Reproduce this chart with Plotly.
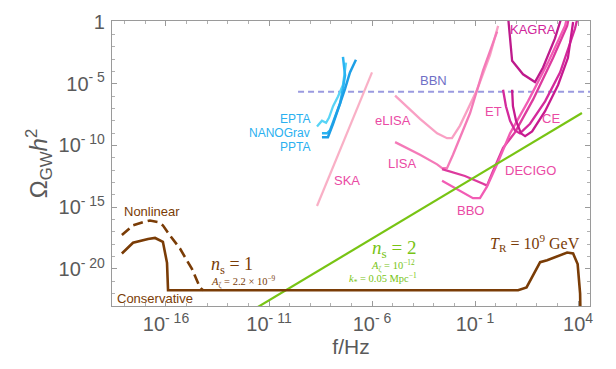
import numpy as np
import plotly.graph_objects as go

# ---- data (log10 f [Hz], log10 Omega_GW h^2) ----
cons_lf = [-18.14, -17.6, -16.87, -16.53, -16.15, -15.95, -15.9, 1.09, 1.5, 2.16, 2.5, 3.0, 3.47, 3.76, 3.98, 4.1, 4.12]
cons_lO = [-18.75, -17.88, -17.57, -17.49, -17.8, -19.5, -21.73, -21.73, -21.5, -19.45, -19.3, -19.0, -18.67, -18.75, -19.6, -22.0, -24.0]

nonlin_lf = [-18.14, -17.6, -17.1, -16.78, -16.4, -16.15, -15.8, -15.32, -14.74, -14.35, -14.2]
nonlin_lO = [-17.25, -16.47, -16.2, -16.08, -16.2, -16.47, -17.3, -18.35, -20.0, -21.5, -21.73]

green_lf = [-11.6, 4.19]
green_lO = [-23.14, -7.37]

bbn_lf = [-9.59, 4.58]
bbn_lO = [-5.65, -5.65]

ska_lf = [-8.67, -6.0]
ska_lO = [-14.9, -4.08]

epta_lf = [-8.67, -8.43, -8.23, -8.09, -7.89, -7.65, -7.41, -7.26]
epta_lO = [-8.47, -8.0, -8.16, -7.76, -6.82, -6.04, -5.10, -3.29]

nano_lf = [-8.43, -8.18, -8.04, -7.80, -7.55, -7.41, -7.31, -7.41]
nano_lO = [-9.02, -9.02, -8.78, -7.76, -6.59, -5.41, -4.31, -2.82]

ppta_lf = [-8.43, -8.14, -7.89, -7.55, -7.31, -7.07, -6.78]
ppta_lO = [-9.33, -9.33, -8.24, -6.67, -5.41, -4.08, -3.06]

elisa_lf = [-4.88, -3.67, -2.84, -2.36, -2.12, -1.73, -0.90, -0.27, 0.12]
elisa_lO = [-5.96, -7.84, -9.02, -9.41, -9.41, -8.39, -5.49, -2.67, -0.31]

lisa_lf = [-4.88, -3.67, -2.84, -2.60, -2.36, -2.07, -1.24, -0.61, 0.07]
lisa_lO = [-9.73, -10.75, -11.53, -11.84, -11.84, -10.75, -7.37, -3.92, -0.78]

decigo_lf = [-2.60, -1.49, -0.61, -0.42, -0.13, 0.36, 0.94, 1.82, 2.79, 3.47, 3.56]
decigo_lO = [-11.92, -12.47, -13.10, -13.25, -12.08, -10.20, -8.94, -6.27, -2.90, -0.31, 0.4]

bbo_lf = [-2.60, -1.10, -0.76, -0.42, 0.07, 0.70, 1.57, 2.54, 3.37, 3.47]
bbo_lO = [-12.86, -14.27, -14.27, -13.33, -11.53, -9.02, -6.43, -3.29, -0.31, 0.4]

kagra_lf = [0.60, 0.80, 1.33, 1.91, 2.30, 2.88, 3.22]
kagra_lO = [0.5, -3.14, -4.24, -4.86, -3.69, -1.33, 0.5]

et_lf = [0.36, 0.50, 0.70, 0.94, 1.18, 1.67, 2.40, 3.13, 3.85, 4.0]
et_lO = [-5.49, -6.82, -8.0, -8.78, -9.02, -8.24, -6.43, -4.08, -0.55, 0.5]

ce_lf = [0.80, 0.84, 0.99, 1.23, 1.43, 1.77, 2.40, 3.03, 3.51, 3.76]
ce_lO = [-5.49, -6.82, -8.0, -9.02, -9.25, -8.86, -7.22, -5.10, -2.90, 0.0]

x_tick_exp = [-16, -11, -6, -1, 4]
y_tick_exp = [-20, -15, -10, -5, 0]
x_ticktext = ["10<sup>- 16</sup>", "10<sup>- 11</sup>", "10<sup>- 6</sup>", "10<sup>- 1</sup>", "10<sup>4</sup>"]
y_ticktext = ["10<sup>- 20</sup>", "10<sup>- 15</sup>", "10<sup>- 10</sup>", "10<sup>- 5</sup>", "1"]

BROWN = "#7a3c06"
GREEN = "#78c414"

def p(v):
    return [10.0 ** a for a in v]

fig = go.Figure()

def line(lf, lO, color, width=2.2, dash=None):
    fig.add_trace(go.Scatter(x=p(lf), y=p(lO), mode="lines",
                             line=dict(color=color, width=width, dash=dash),
                             hoverinfo="skip", showlegend=False))

line(bbn_lf, bbn_lO, "#9a9ae0", 2.2, "6px,4px")
line(ska_lf, ska_lO, "#f9b0c6", 2.2)
line(epta_lf, epta_lO, "#58d4f6", 2.3)
line(nano_lf, nano_lO, "#2ab4f2", 2.5)
line(ppta_lf, ppta_lO, "#1d9fe6", 2.5)
line(elisa_lf, elisa_lO, "#f9a0c4", 2.3)
line(lisa_lf, lisa_lO, "#f47ab8", 2.3)
line(decigo_lf, decigo_lO, "#dd3a9e", 2.3)
line(bbo_lf, bbo_lO, "#f25cb4", 2.3)
line(kagra_lf, kagra_lO, "#be1a8c", 2.3)
line(et_lf, et_lO, "#d42a9c", 2.3)
line(ce_lf, ce_lO, "#c71a90", 2.3)
line(green_lf, green_lO, GREEN, 2.2)
line(nonlin_lf, nonlin_lO, BROWN, 2.6, "10px,5px")
line(cons_lf, cons_lO, BROWN, 2.6)

def label(x, y, text, color, size=13, xanchor="center", family="Liberation Sans"):
    fig.add_annotation(x=x, y=y, text=text, showarrow=False, xanchor=xanchor,
                       yanchor="middle", font=dict(color=color, size=size, family=family))

label(1.82, -0.63, "KAGRA", "#d0249a")
label(-3.04, -4.71, "BBN", "#6f6fc6")
label(-8.91, -7.88, "EPTA", "#2ab0f0", 12, xanchor="right")
label(-8.91, -8.95, "NANOGrav", "#2ab0f0", 12, xanchor="right")
label(-8.91, -10.15, "PPTA", "#2ab0f0", 12, xanchor="right")
label(-7.21, -12.86, "SKA", "#ea4aa4")
label(-4.98, -8.0, "eLISA", "#ea4aa4")
label(-4.54, -11.45, "LISA", "#ea4aa4")
label(-0.08, -7.22, "ET", "#ea4aa4")
label(2.69, -7.84, "CE", "#ea4aa4")
label(1.67, -12.0, "DECIGO", "#ea4aa4")
label(-1.24, -15.29, "BBO", "#ea4aa4")
label(-16.68, -15.37, "Nonlinear", BROWN)
label(-16.53, -22.43, "Conservative", BROWN)

SERIF = "Liberation Serif"
label(-13.9, -19.7, "<i>n</i><sub>s</sub> = 1", BROWN, 18, "left", SERIF)
label(-13.9, -21.05, "<i>A</i><sub>ζ</sub> = 2.2 × 10<sup>−9</sup>", BROWN, 10.5, "left", SERIF)
label(-3.75, -18.4, "<i>n</i><sub>s</sub> = 2", GREEN, 19, "right", SERIF)
label(-3.8, -19.72, "<i>A</i><sub>ζ</sub> = 10<sup>−12</sup>", GREEN, 10.5, "right", SERIF)
label(-3.7, -20.78, "<i>k</i><sub>*</sub> = 0.05 Mpc<sup>−1</sup>", GREEN, 10.5, "right", SERIF)
label(4.2, -17.88, "<i>T</i><sub>R</sub> = 10<sup>9</sup> GeV", BROWN, 16, "right", SERIF)

axis_common = dict(showline=True, linecolor="#9a9a9a", linewidth=1.2, mirror="ticks",
                   ticks="inside", ticklen=5, tickcolor="#9a9a9a", showgrid=False,
                   zeroline=False, tickfont=dict(family="Liberation Sans", size=20, color="#5a5a5a"))

minor_x = [10.0 ** e for e in range(-18, 5) if e not in x_tick_exp]
minor_y = [10.0 ** e for e in range(-22, 1) if e not in y_tick_exp]

fig.update_xaxes(type="log", range=[-18.62, 4.58],
                 tickvals=[10.0 ** e for e in x_tick_exp], ticktext=x_ticktext,
                 minor=dict(tickvals=minor_x, ticks="inside", ticklen=3, tickcolor="#b0b0b0"),
                 title=dict(text="f/Hz", font=dict(family="Liberation Sans", size=21, color="#5a5a5a"), standoff=4),
                 **axis_common)
fig.update_yaxes(type="log", range=[-23.0, 0.08],
                 tickvals=[10.0 ** e for e in y_tick_exp], ticktext=y_ticktext,
                 minor=dict(tickvals=minor_y, ticks="inside", ticklen=3, tickcolor="#b0b0b0"),
                 title=dict(text="Ω<sub>GW</sub><i>h</i><sup>2</sup>", font=dict(family="Liberation Sans", size=24, color="#5a5a5a"), standoff=4),
                 ticklabelstandoff=2,
                 **axis_common)

fig.update_layout(width=616, height=369, margin=dict(l=112, r=26, t=11, b=63),
                  paper_bgcolor="white", plot_bgcolor="white", showlegend=False)

fig.write_html("out.html")
